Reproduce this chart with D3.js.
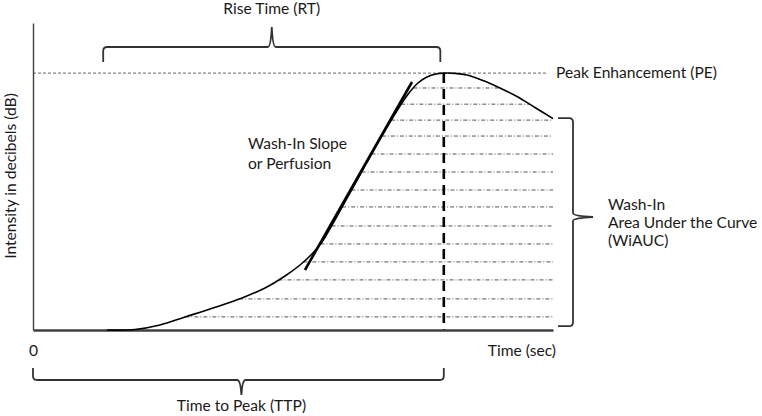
<!DOCTYPE html>
<html>
<head>
<meta charset="utf-8">
<script src="https://cdn.jsdelivr.net/npm/d3@7"></script>
<style>
  html, body { margin: 0; padding: 0; background: #fff; }
  svg { display: block; }
  text { font-family: Lato, "Open Sans", sans-serif; font-size: 15.6px; fill: #1a1a1a; }
</style>
</head>
<body>
<svg id="chart" width="762" height="416"></svg>
<script>
// ---- data (time in sec, intensity in arbitrary dB units, PE = 100) ----
const time      = [8.54, 11.77, 14.65, 17.54, 20.77, 24.12, 26.77, 29.08, 30.81, 32.19, 33.35, 34.38, 35.54, 36.69, 37.85, 39.0, 40.15, 41.31, 42.35, 43.38, 44.42, 45.46, 46.5, 47.4, 48.69, 50.08, 51.92, 53.88, 55.85, 57.92, 60.0];
const intensity = [0, 0.2, 1.95, 5.06, 8.56, 12.46, 16.35, 21.02, 25.3, 29.58, 34.25, 40.09, 47.1, 54.11, 61.11, 68.12, 74.93, 81.55, 87.19, 92.25, 96.15, 98.48, 99.65, 100, 99.9, 99.26, 97.12, 94.2, 90.9, 86.6, 82.3];
const areaLevels = [94.2, 87.9, 81.7, 75.5, 68.5, 61.5, 54.5, 47.9, 40.5, 33.5, 26.5, 19.5, 12.1, 5.1];
const peakValue = 100;
const ttp = 47.4;          // time to peak
const rtStart = 8.1;       // rise time start
const rtEnd = 47.0;        // rise time end
const slopeTime = [31.38, 43.73];
const slopeValue = [23.36, 96.54];
const xTicks = [0];
const timeMax = 60;
const yMax = 119.5;

const svg = d3.select("#chart");
const x = d3.scaleLinear().domain([0, timeMax]).range([33, 553]);
const y = d3.scaleLinear().domain([0, yMax]).range([330, 23]);

// ---- area-under-curve dash-dot lines ----
const peakIdx = intensity.indexOf(d3.max(intensity));
function crossing(level, from, to, step) {
  for (let i = from; i !== to; i += step) {
    const a = intensity[i], b = intensity[i + step];
    if ((a - level) * (b - level) <= 0 && a !== b) {
      const f = (level - a) / (b - a);
      return time[i] + f * (time[i + step] - time[i]);
    }
  }
  return null;
}
areaLevels.forEach(lv => {
  const t0 = crossing(lv, 0, peakIdx, 1);
  let t1 = crossing(lv, peakIdx, time.length - 1, 1);
  if (t1 === null) t1 = timeMax;
  svg.append("line")
    .attr("x1", x(t0)).attr("x2", x(t1))
    .attr("y1", y(lv)).attr("y2", y(lv))
    .attr("stroke", "#555").attr("stroke-width", 1)
    .attr("stroke-dasharray", "4,2,1,2");
});

// ---- peak enhancement dotted line ----
svg.append("line")
  .attr("x1", x(0)).attr("x2", x(timeMax) - 5)
  .attr("y1", y(peakValue)).attr("y2", y(peakValue))
  .attr("stroke", "#666").attr("stroke-width", 1)
  .attr("stroke-dasharray", "3,2");

// ---- TTP vertical dashed line ----
svg.append("line")
  .attr("x1", x(ttp)).attr("x2", x(ttp))
  .attr("y1", y(peakValue)).attr("y2", y(0))
  .attr("stroke", "#000").attr("stroke-width", 2.6)
  .attr("stroke-dasharray", "10,6");

// ---- axes ----
const xAxis = svg.append("g").attr("transform", `translate(0,${y(0)})`)
  .call(d3.axisBottom(x).tickValues(xTicks).tickSize(0).tickSizeOuter(0).tickPadding(15).tickFormat(d3.format("d")));
xAxis.attr("font-family", null).attr("font-size", null);
xAxis.select(".domain").attr("stroke", "#404040").attr("stroke-width", 2.4);
xAxis.selectAll("text").style("fill", "#1a1a1a");

const yAxis = svg.append("g").attr("transform", `translate(${x(0)},0)`)
  .call(d3.axisLeft(y).tickValues([]).tickSizeOuter(0));
yAxis.select(".domain").attr("stroke", "#404040").attr("stroke-width", 1.4);

// ---- curve ----
const line = d3.line().x((d, i) => x(time[i])).y(d => y(d)).curve(d3.curveCatmullRom.alpha(0.5));
svg.append("path").datum(intensity)
  .attr("d", line).attr("fill", "none")
  .attr("stroke", "#000").attr("stroke-width", 1.6);

// ---- wash-in slope tangent ----
svg.append("line")
  .attr("x1", x(slopeTime[0])).attr("y1", y(slopeValue[0]))
  .attr("x2", x(slopeTime[1])).attr("y2", y(slopeValue[1]))
  .attr("stroke", "#000").attr("stroke-width", 2.6);

// ---- braces ----
function hBrace(x1, x2, yLine, yEnd, yTip, xTip) {
  const s = Math.sign(yEnd - yLine), r = 4;
  return `M${x1},${yEnd} L${x1},${yLine + s * r} Q${x1},${yLine} ${x1 + r},${yLine}` +
         ` L${xTip - 4},${yLine} Q${xTip - 1},${yLine} ${xTip},${yTip}` +
         ` Q${xTip + 1},${yLine} ${xTip + 4},${yLine} L${x2 - r},${yLine}` +
         ` Q${x2},${yLine} ${x2},${yLine + s * r} L${x2},${yEnd}`;
}
function vBrace(y1, y2, xLine, xEnd, xTip, yTip) {
  const r = 4;
  return `M${xEnd},${y1} L${xLine - r},${y1} Q${xLine},${y1} ${xLine},${y1 + r}` +
         ` L${xLine},${yTip - 4} Q${xLine},${yTip - 1} ${xTip},${yTip}` +
         ` Q${xLine},${yTip + 1} ${xLine},${yTip + 4} L${xLine},${y2 - r}` +
         ` Q${xLine},${y2} ${xLine - r},${y2} L${xEnd},${y2}`;
}
const braceStyle = p => p.attr("fill", "none").attr("stroke", "#333").attr("stroke-width", 1.8);

const rtMid = (x(rtStart) + x(rtEnd)) / 2;
svg.append("path").attr("d", hBrace(x(rtStart), x(rtEnd), 47, 62, 27, rtMid)).call(braceStyle);

const ttpMid = (x(0) + x(ttp)) / 2 + 3;
svg.append("path").attr("d", hBrace(x(0), x(ttp), 380, 368, 395, ttpMid)).call(braceStyle);

svg.append("path").attr("d", vBrace(y(82.5), y(1.5), 573, 558, 593, 217)).call(braceStyle);

// ---- labels ----
svg.append("text").attr("x", rtMid).attr("y", 14).attr("text-anchor", "middle").text("Rise Time (RT)");
svg.append("text").attr("x", 556).attr("y", y(peakValue) + 5).text("Peak Enhancement (PE)");
svg.append("text").attr("x", 248).attr("y", 149).text("Wash-In Slope");
svg.append("text").attr("x", 248).attr("y", 169).text("or Perfusion");
svg.append("text").attr("x", 608).attr("y", 210).text("Wash-In");
svg.append("text").attr("x", 608).attr("y", 228).text("Area Under the Curve");
svg.append("text").attr("x", 608).attr("y", 246).text("(WiAUC)");
svg.append("text").attr("x", 556).attr("y", 356).attr("text-anchor", "end").text("Time (sec)");
svg.append("text").attr("x", ttpMid).attr("y", 411).attr("text-anchor", "middle").text("Time to Peak (TTP)");
svg.append("text").attr("transform", "translate(16,176) rotate(-90)").attr("text-anchor", "middle").text("Intensity in decibels (dB)");
</script>
</body>
</html>
